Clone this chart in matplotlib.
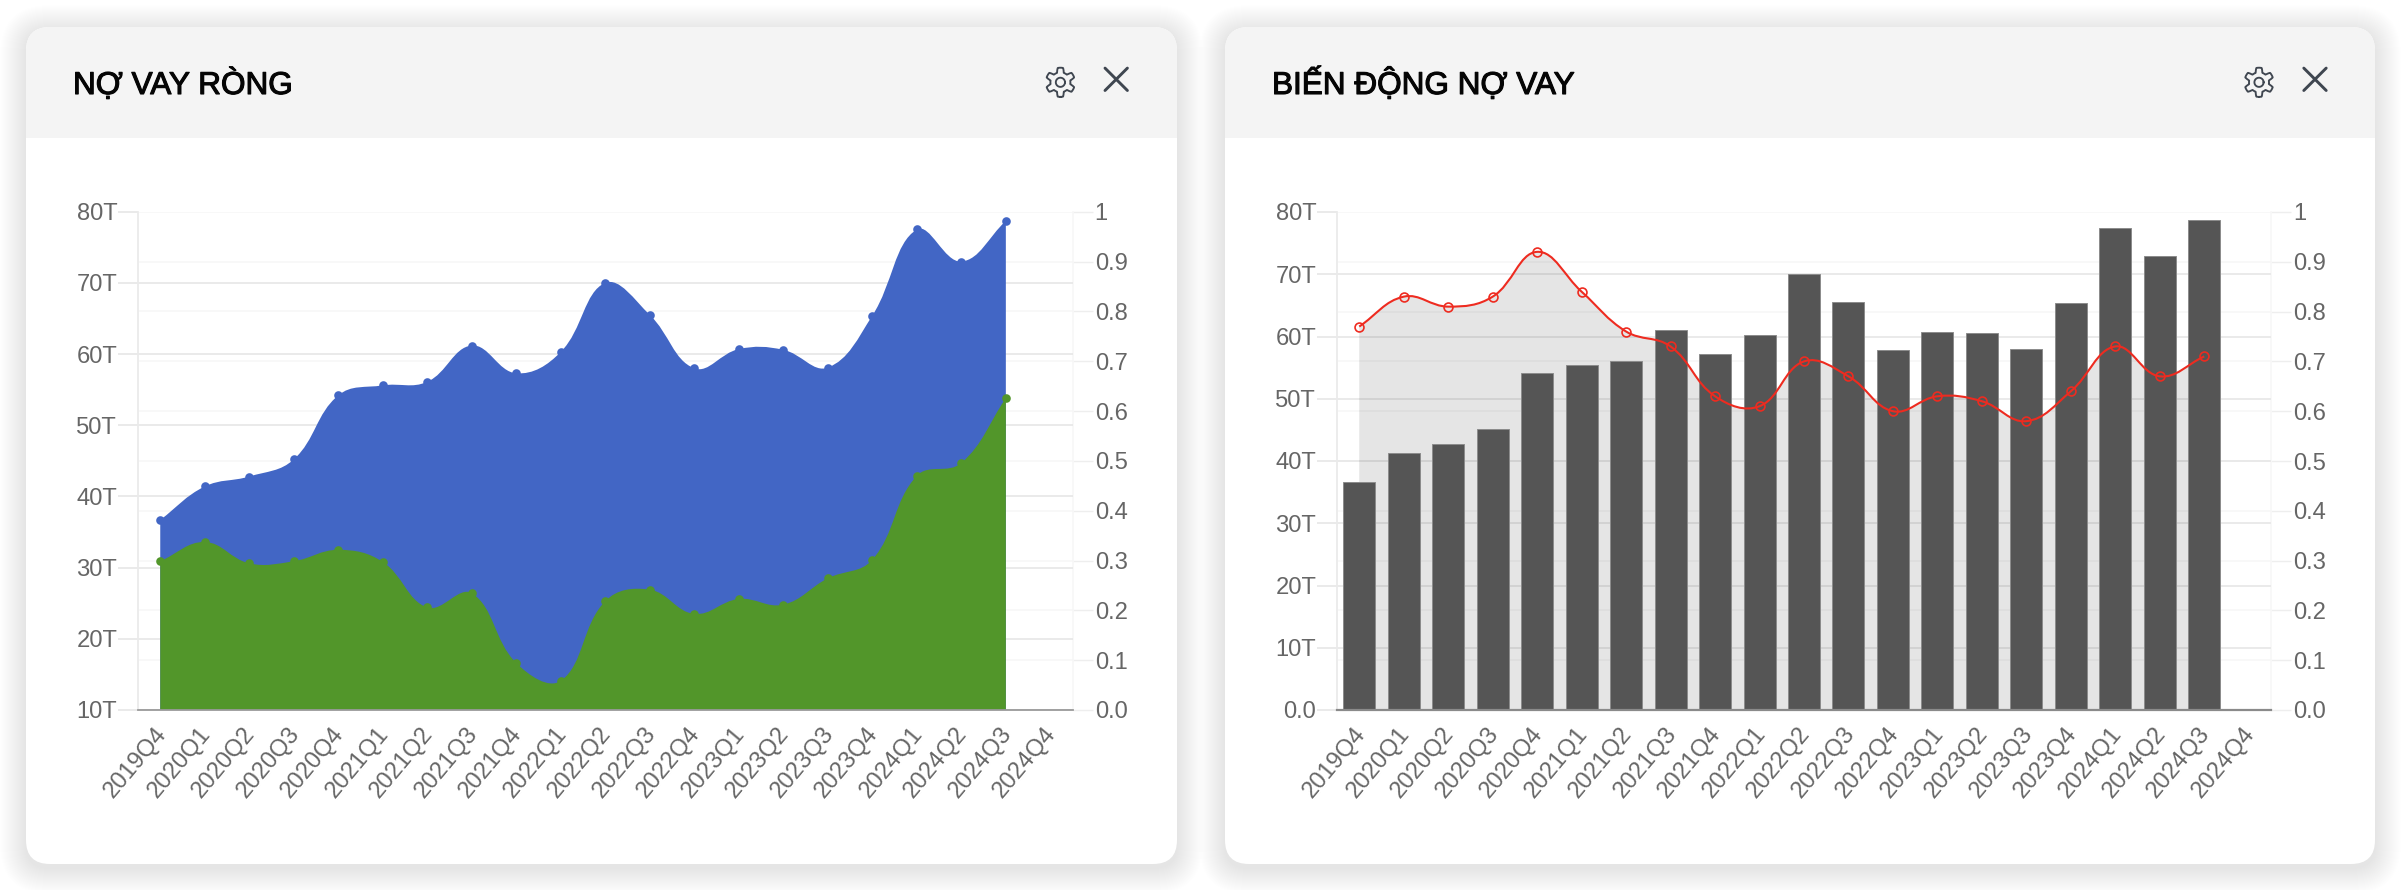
import numpy as np
import matplotlib
matplotlib.use("Agg")
import matplotlib.pyplot as plt
from matplotlib.patches import FancyBboxPatch, Rectangle, PathPatch
from matplotlib.path import Path
from matplotlib.transforms import ScaledTranslation
import matplotlib.patheffects as pe

# ---- data ----
quarters = ["2019Q4", "2020Q1", "2020Q2", "2020Q3", "2020Q4", "2021Q1", "2021Q2",
            "2021Q3", "2021Q4", "2022Q1", "2022Q2", "2022Q3", "2022Q4", "2023Q1",
            "2023Q2", "2023Q3", "2023Q4", "2024Q1", "2024Q2", "2024Q3", "2024Q4"]
net_debt_total = [36.7, 41.4, 42.8, 45.2, 54.2, 55.6, 56.1, 61.2, 57.3, 60.3,
                  70.0, 65.5, 58.0, 60.7, 60.6, 58.1, 65.4, 77.5, 73.0, 78.7]
net_debt_green = [30.9, 33.6, 30.6, 30.9, 32.5, 30.8, 24.4, 26.4, 16.6, 14.1,
                  25.3, 26.9, 23.5, 25.6, 24.8, 28.5, 31.1, 42.9, 44.7, 53.8]
debt_bars = [36.7, 41.3, 42.7, 45.2, 54.1, 55.5, 56.0, 61.0, 57.2, 60.2,
             70.0, 65.5, 57.9, 60.7, 60.6, 58.0, 65.4, 77.5, 73.0, 78.7]
debt_ratio = [0.77, 0.83, 0.81, 0.83, 0.92, 0.84, 0.76, 0.73, 0.63, 0.61,
              0.70, 0.67, 0.60, 0.63, 0.62, 0.58, 0.64, 0.73, 0.67, 0.71]
left_ticks_a = [10, 20, 30, 40, 50, 60, 70, 80]
left_labels_a = ["10T", "20T", "30T", "40T", "50T", "60T", "70T", "80T"]
left_ticks_b = [0, 10, 20, 30, 40, 50, 60, 70, 80]
left_labels_b = ["0.0", "10T", "20T", "30T", "40T", "50T", "60T", "70T", "80T"]
right_ticks = [0, .1, .2, .3, .4, .5, .6, .7, .8, .9, 1]
right_labels = ["0.0", "0.1", "0.2", "0.3", "0.4", "0.5", "0.6", "0.7", "0.8", "0.9", "1"]
titles = ["NỢ VAY RÒNG", "BIẾN ĐỘNG NỢ VAY"]

W, H = 2402, 890
BLUE, GREEN, RED = "#4266C5", "#52962A", "#EE2B20"
plt.rcParams["font.family"] = ["Liberation Sans", "DejaVu Sans"]
fig = plt.figure(figsize=(W / 100, H / 100), dpi=100, facecolor="white")

bg = fig.add_axes([0, 0, 1, 1], zorder=0)
bg.set_xlim(0, W); bg.set_ylim(H, 0); bg.axis("off")


def card(x0, x1, title, gear_x, x_x):
    y0, y1 = 27, 864
    for pad in range(1, 27):
        bg.add_patch(FancyBboxPatch((x0, y0 + 4), x1 - x0, y1 - y0,
                                    boxstyle=f"round,pad={pad},rounding_size={24 + pad}",
                                    fc="black", ec="none", alpha=0.0036))
    c = FancyBboxPatch((x0, y0), x1 - x0, y1 - y0, boxstyle="round,pad=0,rounding_size=24",
                       fc="white", ec="none")
    bg.add_patch(c)
    h = Rectangle((x0, y0), x1 - x0, 111, fc="#F4F4F4", ec="none")
    bg.add_patch(h)
    h.set_clip_path(c)
    t = bg.text(x0 + 47, 94, title, fontsize=22.7, color="#050505", va="baseline", ha="left")
    t.set_path_effects([pe.withStroke(linewidth=0.8, foreground="#050505")])
    # gear icon
    th = np.linspace(0, 2 * np.pi, 361)
    r = 12.3 + 2.3 * np.clip(2.2 * np.cos(6 * th), -1, 1)
    bg.plot(gear_x + r * np.sin(th), 82.3 + r * np.cos(th), color="#3F4650", lw=1.35)
    bg.plot(gear_x + 4.6 * np.cos(th), 82.3 + 4.6 * np.sin(th), color="#3F4650", lw=1.35)
    # close icon
    s = 11.2
    bg.plot([x_x - s, x_x + s], [79.3 - s, 79.3 + s], color="#3F4650", lw=2.1, solid_capstyle="round")
    bg.plot([x_x - s, x_x + s], [79.3 + s, 79.3 - s], color="#3F4650", lw=2.1, solid_capstyle="round")


card(26, 1177, titles[0], 1060.4, 1116.2)
card(1225, 2375, titles[1], 2259, 2315)


def rect(l, t, r, b):
    return [l / W, 1 - b / H, (r - l) / W, (b - t) / H]


def spline_path(ax, xs, ys, base=None, tension=0.4):
    """Chart.js style cubic spline through the points, in the axes' data coordinates."""
    p = ax.transData.transform(np.column_stack([xs, ys]))
    n = len(p)
    verts, codes = [], []
    cp_in, cp_out = [], []
    for i in range(n):
        prev = p[max(i - 1, 0)]; cur = p[i]; nxt = p[min(i + 1, n - 1)]
        d01 = np.hypot(*(cur - prev)); d12 = np.hypot(*(nxt - cur))
        tot = d01 + d12
        fa = tension * d01 / tot; fb = tension * d12 / tot
        cp_in.append(cur - fa * (nxt - prev))
        cp_out.append(cur + fb * (nxt - prev))
    verts.append(p[0]); codes.append(Path.MOVETO)
    for i in range(n - 1):
        verts += [cp_out[i], cp_in[i + 1], p[i + 1]]
        codes += [Path.CURVE4] * 3
    v = ax.transData.inverted().transform(np.array(verts))
    v = list(map(tuple, v))
    if base is not None:
        v += [(xs[-1], base), (xs[0], base), (xs[0], base)]
        codes += [Path.LINETO, Path.LINETO, Path.CLOSEPOLY]
    return Path(v, codes)


def panel(l, t, r, b, ylim, lt, ll):
    """Base axes: R carries the right scale and its faint grid, G the left one."""
    R = fig.add_axes(rect(l, t, r, b), zorder=1, facecolor="none")
    G = fig.add_axes(rect(l, t, r, b), zorder=2, facecolor="none")
    x = np.arange(len(quarters))
    for a in (R, G):
        a.set_xlim(-0.5, len(quarters) - 0.5)
        a.set_axisbelow(True)
    R.set_ylim(0, 1); G.set_ylim(*ylim)
    R.yaxis.tick_right()
    R.set_yticks(right_ticks, right_labels)
    G.set_yticks(lt, ll)
    R.set_xticks([])
    R.tick_params(axis="y", length=14.4, width=1.0, color="#EEEEEE", pad=1.5,
                  labelsize=17.1, labelcolor="#666666")
    G.tick_params(axis="y", length=14.4, width=1.2, color="#E6E6E6", pad=0.6,
                  labelsize=17.1, labelcolor="#666666")
    G.set_xticks(x, quarters, rotation=50, ha="right", va="center", rotation_mode="anchor")
    G.tick_params(axis="x", length=0, pad=14.5, labelsize=17.1, labelcolor="#666666")
    off = ScaledTranslation(2 / 100, 0, fig.dpi_scale_trans)
    for lab in G.get_xticklabels():
        lab.set_transform(lab.get_transform() + off)
    R.grid(axis="y", color="#F6F6F6", lw=1.1)
    for v in lt[:-1]:
        G.axhline(v, color="#E8E8E8", lw=1.3, zorder=0.5)
    for a in (R, G):
        for s in a.spines.values():
            s.set_visible(False)
    G.spines["left"].set_visible(True); G.spines["left"].set_color("#EBEBEB"); G.spines["left"].set_linewidth(1.3)
    R.spines["right"].set_visible(True); R.spines["right"].set_color("#F6F6F6"); R.spines["right"].set_linewidth(1.1)
    G.spines["bottom"].set_visible(True); G.spines["bottom"].set_color("#9A9A9A"); G.spines["bottom"].set_linewidth(1.3)
    G.spines["bottom"].set_zorder(6)
    return R, G


# ---- left panel ----
R1, G1 = panel(138, 211.7, 1072.6, 710, (10, 80), left_ticks_a, left_labels_a)
xa = np.arange(len(net_debt_total))
G1.add_patch(PathPatch(spline_path(G1, xa, net_debt_total, base=10), fc=BLUE, ec="none", zorder=2))
G1.plot(xa, net_debt_total, "o", color=BLUE, ms=6.2, mew=0, zorder=2.1, clip_on=False)
G1.add_patch(PathPatch(spline_path(G1, xa, net_debt_green, base=10), fc=GREEN, ec="none", zorder=3))
G1.plot(xa, net_debt_green, "o", color=GREEN, ms=6.2, mew=0, zorder=3.1, clip_on=False)

# ---- right panel ----
R2, G2 = panel(1337, 212, 2271, 710, (0, 80), left_ticks_b, left_labels_b)
xb = np.arange(len(debt_bars))
F = fig.add_axes(rect(1337, 212, 2271, 710), zorder=3, facecolor="none")
F.set_xlim(-0.5, len(quarters) - 0.5); F.set_ylim(0, 1); F.axis("off")
F.add_patch(PathPatch(spline_path(F, xb, debt_ratio, base=0), fc="black", alpha=0.10, ec="none"))
B = fig.add_axes(rect(1337, 212, 2271, 710), zorder=4, facecolor="none")
B.set_xlim(-0.5, len(quarters) - 0.5); B.set_ylim(0, 80); B.axis("off")
B.bar(xb, debt_bars, width=0.72, color="#555555", edgecolor="#8C8C8C", linewidth=0.7)
B.axhline(0, color="#8A8A8A", lw=1.6, clip_on=False)
L = fig.add_axes(rect(1337, 212, 2271, 710), zorder=5, facecolor="none")
L.set_xlim(-0.5, len(quarters) - 0.5); L.set_ylim(0, 1); L.axis("off")
L.add_patch(PathPatch(spline_path(L, xb, debt_ratio), fc="none", ec=RED, lw=1.5))
L.plot(xb, debt_ratio, "o", mfc="none", mec=RED, mew=1.2, ms=6.4)

fig.savefig("out.png", dpi=100, facecolor="white")
